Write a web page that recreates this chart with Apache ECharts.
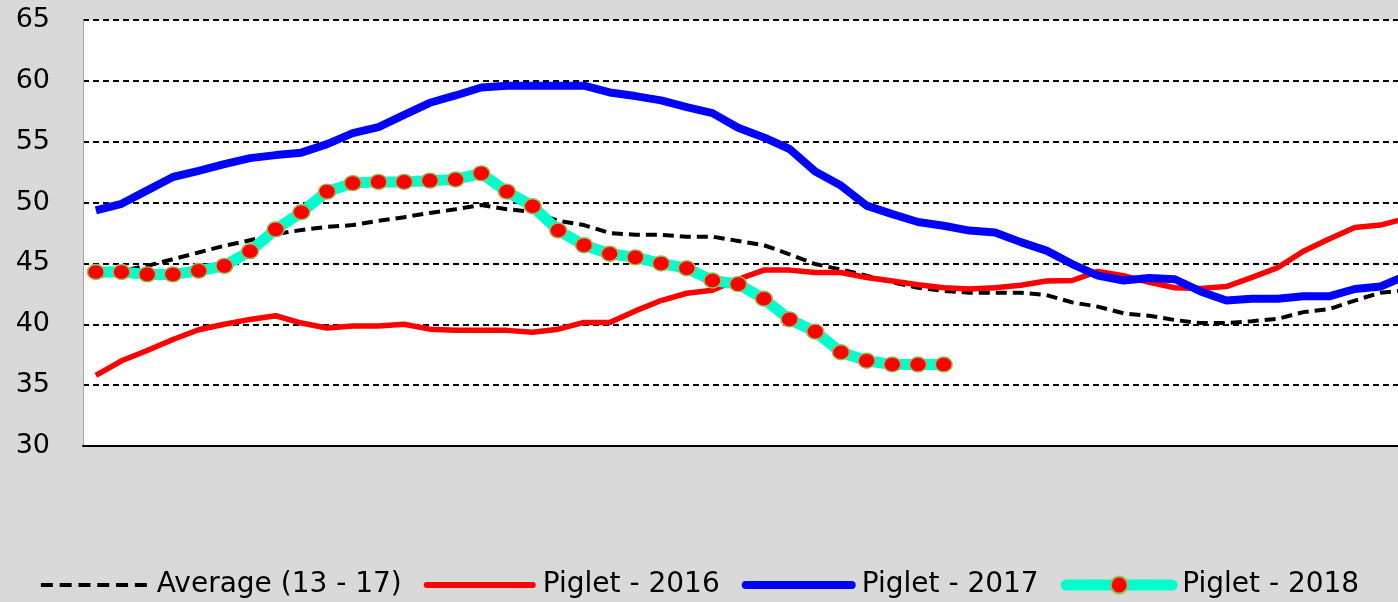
<!DOCTYPE html>
<html>
<head>
<meta charset="utf-8">
<script src="https://cdn.jsdelivr.net/npm/echarts@6/dist/echarts.min.js"></script>
<style>
	html, body { margin: 0; padding: 0; background: #d9d9d9; }
	#chart { width: 1398px; height: 602px; }
</style>
</head>
<body>
<div id="chart"></div>
<script>
// weeks of the year
var weeks = [1, 2, 3, 4, 5, 6, 7, 8, 9, 10, 11, 12, 13, 14, 15, 16, 17, 18, 19, 20,
	21, 22, 23, 24, 25, 26, 27, 28, 29, 30, 31, 32, 33, 34, 35, 36, 37, 38, 39, 40,
	41, 42, 43, 44, 45, 46, 47, 48, 49, 50, 51, 52];

var seriesNames = ["Average (13 - 17)", "Piglet - 2016", "Piglet - 2017", "Piglet - 2018"];

var average = [43.85, 44.4, 44.8, 45.35, 45.9, 46.45, 46.9, 47.4, 47.75, 48.0,
	48.15, 48.5, 48.8, 49.15, 49.45, 49.8, 49.45, 49.25, 48.5, 48.15,
	47.5, 47.35, 47.35, 47.2, 47.2, 46.85, 46.5, 45.75, 44.95, 44.5,
	44.0, 43.45, 43.0, 42.75, 42.6, 42.6, 42.6, 42.4, 41.8, 41.45,
	40.9, 40.7, 40.35, 40.1, 40.1, 40.25, 40.45, 41.0, 41.25, 41.95,
	42.6, 42.8];

var piglet2016 = [35.8, 37.0, 37.85, 38.75, 39.55, 40.0, 40.4, 40.7, 40.1, 39.7,
	39.85, 39.85, 40.0, 39.6, 39.5, 39.5, 39.5, 39.35, 39.6, 40.15,
	40.15, 41.1, 41.95, 42.55, 42.8, 43.7, 44.45, 44.45, 44.25, 44.25,
	43.85, 43.55, 43.25, 43.0, 42.9, 43.0, 43.2, 43.55, 43.6, 44.35,
	44.0, 43.45, 43.0, 42.95, 43.1, 43.85, 44.65, 46.0, 47.0, 47.95,
	48.15, 48.7];

var piglet2017 = [49.35, 49.9, 51.0, 52.1, 52.6, 53.15, 53.65, 53.9, 54.1, 54.8,
	55.7, 56.2, 57.2, 58.2, 58.8, 59.45, 59.6, 59.6, 59.6, 59.6,
	59.05, 58.75, 58.4, 57.85, 57.35, 56.15, 55.35, 54.4, 52.55, 51.4,
	49.75, 49.05, 48.4, 48.1, 47.7, 47.55, 46.75, 46.05, 44.95, 44.0,
	43.6, 43.8, 43.7, 42.7, 41.95, 42.1, 42.1, 42.3, 42.3, 42.9,
	43.1, 44.0];

var piglet2018 = [44.3, 44.3, 44.1, 44.1, 44.4, 44.8, 46.0, 47.8, 49.2, 50.9,
	51.6, 51.7, 51.7, 51.8, 51.9, 52.4, 50.9, 49.7, 47.7, 46.5,
	45.8, 45.5, 45.0, 44.6, 43.6, 43.3, 42.1, 40.4, 39.4, 37.7,
	37.0, 36.7, 36.7, 36.7];

var myChart = echarts.init(document.getElementById("chart"));

var noSymbol = { opacity: 0 };

var option = {
	backgroundColor: "#d9d9d9",
	animation: false,
	textStyle: {
		fontFamily: "DejaVu Sans"
	},
	grid: {
		left: 83,
		top: 20,
		width: 1336,
		height: 426,
		outerBoundsMode: "none",
		containLabel: false,
		show: true,
		backgroundColor: "#ffffff",
		borderWidth: 0
	},
	legend: {
		data: [
			{ name: seriesNames[0], itemStyle: noSymbol, lineStyle: { width: 4, type: [12, 6.8] } },
			{ name: seriesNames[1], itemStyle: noSymbol, lineStyle: { width: 6, cap: "round" } },
			{ name: seriesNames[2], itemStyle: noSymbol, lineStyle: { width: 8, cap: "round" } },
			{ name: seriesNames[3], lineStyle: { width: 11, cap: "round" } }
		],
		left: "center",
		top: 566,
		itemWidth: 106,
		itemHeight: 21,
		itemGap: 22,
		lineStyle: { width: "inherit" },
		textStyle: {
			fontSize: 28,
			color: "#000000",
			padding: [0, 0, 0, 5]
		}
	},
	xAxis: {
		type: "category",
		data: weeks,
		boundaryGap: true,
		axisLine: { lineStyle: { color: "#000000", width: 2 } },
		axisTick: { show: false },
		axisLabel: { show: false },
		splitLine: { show: false }
	},
	yAxis: {
		type: "value",
		min: 30,
		max: 65,
		interval: 5,
		axisLine: { show: true, lineStyle: { color: "#a6a6a6", width: 1 } },
		axisTick: { show: false },
		axisLabel: {
			fontSize: 27,
			color: "#000000",
			margin: 33
		},
		splitLine: {
			lineStyle: { color: "#000000", width: 2, type: [6, 4] }
		}
	},
	series: [
		{
			name: seriesNames[0],
			type: "line",
			data: average,
			symbol: "none",
			lineStyle: { color: "#000000", width: 4, type: [11, 6] },
			itemStyle: { color: "#000000" }
		},
		{
			name: seriesNames[1],
			type: "line",
			data: piglet2016,
			symbol: "none",
			lineStyle: { color: "#ff0000", width: 5.5 },
			itemStyle: { color: "#ff0000" }
		},
		{
			name: seriesNames[2],
			type: "line",
			data: piglet2017,
			symbol: "none",
			lineStyle: { color: "#0000ff", width: 8 },
			itemStyle: { color: "#0000ff" }
		},
		{
			name: seriesNames[3],
			type: "line",
			data: piglet2018,
			symbol: "circle",
			symbolSize: [17, 15],
			lineStyle: { color: "#00ffcc", width: 11 },
			itemStyle: { color: "#ff0000", borderColor: "#9bbb59", borderWidth: 1.5 }
		}
	]
};

myChart.setOption(option);
</script>
</body>
</html>
